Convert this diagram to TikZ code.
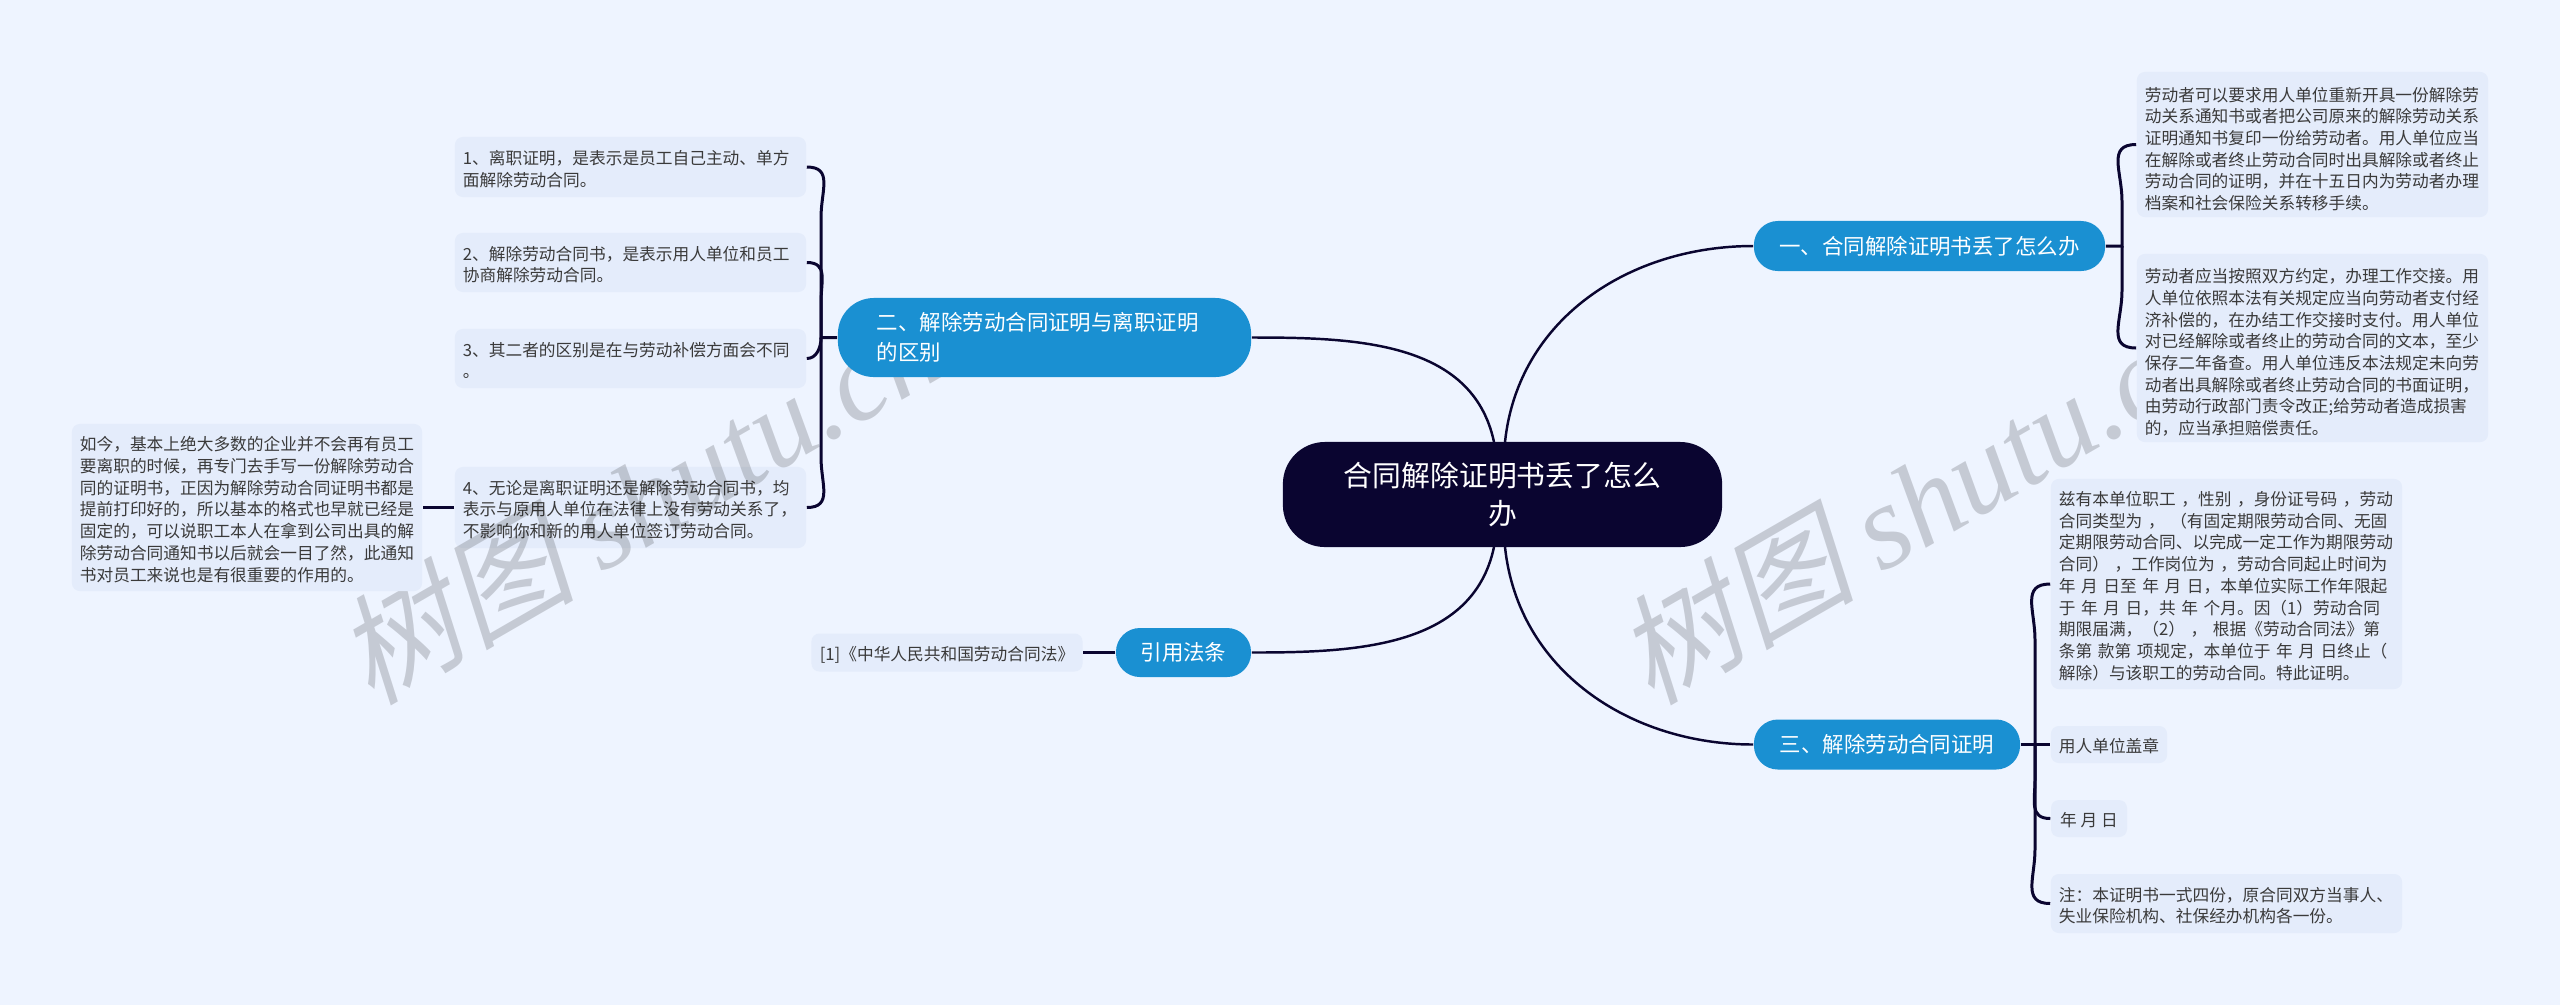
\documentclass[tikz,border=0pt]{standalone}
\usepackage{fontspec}
\setmainfont{Noto Sans CJK SC}
\newfontfamily\wmcjk[FakeSlant=0.22]{Noto Sans CJK SC}
\newfontfamily\wmlatin{Liberation Serif}
\usepackage{xcolor}
\definecolor{bgblue}{HTML}{EEF4FF}
\definecolor{leafblue}{HTML}{E4ECFB}
\definecolor{branchblue}{HTML}{1A90D2}
\definecolor{rootnavy}{HTML}{0A0530}
\definecolor{leafgray}{HTML}{3A3A3A}

\begin{document}
\begin{tikzpicture}[x=0.01cm, y=-0.01cm]
        % ================= 样式定义 =================
        \tikzset{
            % 根节点
            rootnode/.style={rectangle, rounded corners=0.42cm, fill=rootnavy, text=white, minimum width=4.39cm, minimum height=1.05cm, inner sep=0pt, align=center, font=\fontsize{8.2}{10.8}\selectfont},
            % 分支节点
            branchnode/.style={rectangle, rounded corners=0.24cm, fill=branchblue, text=white, minimum height=0.5cm, inner sep=0pt, align=center, font=\fontsize{6.1}{8.5}\selectfont},
            % 叶子节点
            leafnode/.style={rectangle, rounded corners=0.08cm, fill=leafblue, text=leafgray, inner xsep=0.08cm, inner ysep=0pt, align=left, font=\fontsize{4.75}{6.17}\selectfont, execute at begin node={\rule{0pt}{5.2pt}}},
            % 上面两块文字再低一点
            lowleaf/.style={execute at begin node={\rule{0pt}{6.6pt}}},
            % 水印
            wmnode/.style={rotate=30, text=black, text opacity=0.17, inner sep=0pt, font=\fontsize{34}{34}\selectfont},
            % 连边样式
            mainlink/.style={line width=0.7pt, rootnavy},
            leaflink/.style={line width=0.85pt, rootnavy}
        }

        % ================= 背景 =================
        \fill[bgblue] (0,0) rectangle (2560,1005);
        \useasboundingbox (0,0) rectangle (2560,1005);

        % 这个叶子在水印下面
        \node[leafnode, minimum width=3.51cm, minimum height=0.81cm, text width=3.35cm] (c4) at (630.5,507.5) {4、无论是离职证明还是解除劳动合同书，均\\表示与原用人单位在法律上没有劳动关系了，\\不影响你和新的用人单位签订劳动合同。};

        % ================= 水印 =================
        \node[wmnode] (wm1) at (638,500) {{\wmcjk 树图} {\wmlatin\itshape shutu.cn}};
        \node[wmnode] (wm2) at (1918,500) {{\wmcjk 树图} {\wmlatin\itshape shutu.cn}};

        % ================= 根节点与分支 =================
        \node[rootnode] (root) at (1502.5,494.5) {合同解除证明书丢了怎么\\办};
        \node[branchnode, minimum width=3.51cm] (one) at (1929.5,246) {一、合同解除证明书丢了怎么办};
        \node[branchnode, minimum width=2.66cm] (three) at (1887,744.5) {三、解除劳动合同证明};
        \node[branchnode, rounded corners=0.36cm, minimum width=4.13cm, minimum height=0.79cm, text width=3.35cm, align=left] (two) at (1044.5,337.5) {二、解除劳动合同证明与离职证明\\的区别};
        \node[branchnode, minimum width=1.35cm, minimum height=0.49cm] (cite) at (1183.5,652.5) {引用法条};

        % ================= 叶子节点 =================
        \node[leafnode, lowleaf, minimum width=3.51cm, minimum height=1.45cm, text width=3.35cm] (a1) at (2312.5,144.5) {劳动者可以要求用人单位重新开具一份解除劳\\动关系通知书或者把公司原来的解除劳动关系\\证明通知书复印一份给劳动者。用人单位应当\\在解除或者终止劳动合同时出具解除或者终止\\劳动合同的证明，并在十五日内为劳动者办理\\档案和社会保险关系转移手续。};
        \node[leafnode, lowleaf, minimum width=3.51cm, minimum height=1.88cm, text width=3.35cm] (a2) at (2312.5,348) {劳动者应当按照双方约定，办理工作交接。用\\人单位依照本法有关规定应当向劳动者支付经\\济补偿的，在办结工作交接时支付。用人单位\\对已经解除或者终止的劳动合同的文本，至少\\保存二年备查。用人单位违反本法规定未向劳\\动者出具解除或者终止劳动合同的书面证明，\\由劳动行政部门责令改正;给劳动者造成损害\\的，应当承担赔偿责任。};
        \node[leafnode, minimum width=3.51cm, minimum height=2.10cm, text width=3.35cm] (b1) at (2226.5,584) {兹有本单位职工~，性别~，身份证号码~，劳动\\合同类型为~，~（有固定期限劳动合同、无固\\定期限劳动合同、以完成一定工作为期限劳动\\合同）~，工作岗位为~，劳动合同起止时间为\\年~月~日至~年~月~日，本单位实际工作年限起\\于~年~月~日，共~年~个月。因（1）劳动合同\\期限届满，（2）~，~根据《劳动合同法》第\\条第~款第~项规定，本单位于~年~月~日终止（\\解除）与该职工的劳动合同。特此证明。};
        \node[leafnode, minimum width=1.16cm, minimum height=0.37cm] (b2) at (2109,744.5) {用人单位盖章};
        \node[leafnode, minimum width=0.76cm, minimum height=0.37cm] (b3) at (2089,818.5) {年~月~日};
        \node[leafnode, minimum width=3.51cm, minimum height=0.59cm, text width=3.35cm] (b4) at (2226.5,903.5) {注：本证明书一式四份，原合同双方当事人、\\失业保险机构、社保经办机构各一份。};
        \node[leafnode, minimum width=3.51cm, minimum height=0.60cm, text width=3.35cm] (c1) at (630.5,167) {1、离职证明，是表示是员工自己主动、单方\\面解除劳动合同。};
        \node[leafnode, minimum width=3.51cm, minimum height=0.59cm, text width=3.35cm] (c2) at (630.5,262.5) {2、解除劳动合同书，是表示用人单位和员工\\协商解除劳动合同。};
        \node[leafnode, minimum width=3.51cm, minimum height=0.59cm, text width=3.35cm] (c3) at (630.5,358.5) {3、其二者的区别是在与劳动补偿方面会不同\\。};
        \node[leafnode, minimum width=3.50cm, minimum height=1.67cm, text width=3.34cm] (d1) at (247,507.5) {如今，基本上绝大多数的企业并不会再有员工\\要离职的时候，再专门去手写一份解除劳动合\\同的证明书，正因为解除劳动合同证明书都是\\提前打印好的，所以基本的格式也早就已经是\\固定的，可以说职工本人在拿到公司出具的解\\除劳动合同通知书以后就会一目了然，此通知\\书对员工来说也是有很重要的作用的。};
        \node[leafnode, minimum width=2.71cm, minimum height=0.38cm] (e1) at (947,652.5) {[1]《中华人民共和国劳动合同法》};

        % ================= 连边 =================
        \coordinate (rootNL) at (1494,442);
        \coordinate (rootNR) at (1505,442);
        \coordinate (rootSL) at (1494,547);
        \coordinate (rootSR) at (1505,547);
        \coordinate (trunkA) at (2122,246);
        \coordinate (trunkB) at (2035,744.5);
        \coordinate (trunkC) at (821,337.5);

        % 1. 根节点到分支
        \draw[mainlink] (one.west) to[out=180, in=84, looseness=1] (rootNR);
        \draw[mainlink] (three.west) to[out=180, in=-84, looseness=1] (rootSR);
        \draw[mainlink] (two.east) to[out=0, in=102, looseness=1] (rootNL);
        \draw[mainlink] (cite.east) to[out=0, in=-102, looseness=1] (rootSL);

        % 2. 右上
        \draw[leaflink] (one.east) -- (trunkA) -- ++(0,-45) to[out=90, in=180, looseness=1.3] (a1.west);
        \draw[leaflink] (trunkA) -- ++(0,45) to[out=-90, in=180, looseness=1.3] (a2.west);

        % 3. 右下
        \draw[leaflink] (three.east) -- (b2.west);
        \draw[leaflink] (trunkB) -- ++(0,-105) to[out=90, in=180, looseness=1.3] (b1.west);
        \draw[leaflink] (trunkB) -- ++(0,35) to[out=-90, in=180, looseness=1.3] (b3.west);
        \draw[leaflink] (trunkB) -- ++(0,105) to[out=-90, in=180, looseness=1.3] (b4.west);

        % 4. 左上
        \draw[leaflink] (two.west) -- (trunkC) -- ++(0,-120) to[out=90, in=0, looseness=1.3] (c1.east);
        \draw[leaflink] (trunkC) -- ++(0,-35) to[out=90, in=0, looseness=1.3] (c2.east);
        \draw[leaflink] (trunkC) to[out=-90, in=0] (c3.east);
        \draw[leaflink] (trunkC) -- ++(0,120) to[out=-90, in=0, looseness=1.3] (c4.east);

        % 5. 左边的两条短线
        \draw[leaflink] (c4.west) -- (d1.east);
        \draw[leaflink] (cite.west) -- (e1.east);

    \end{tikzpicture}
\end{document}
